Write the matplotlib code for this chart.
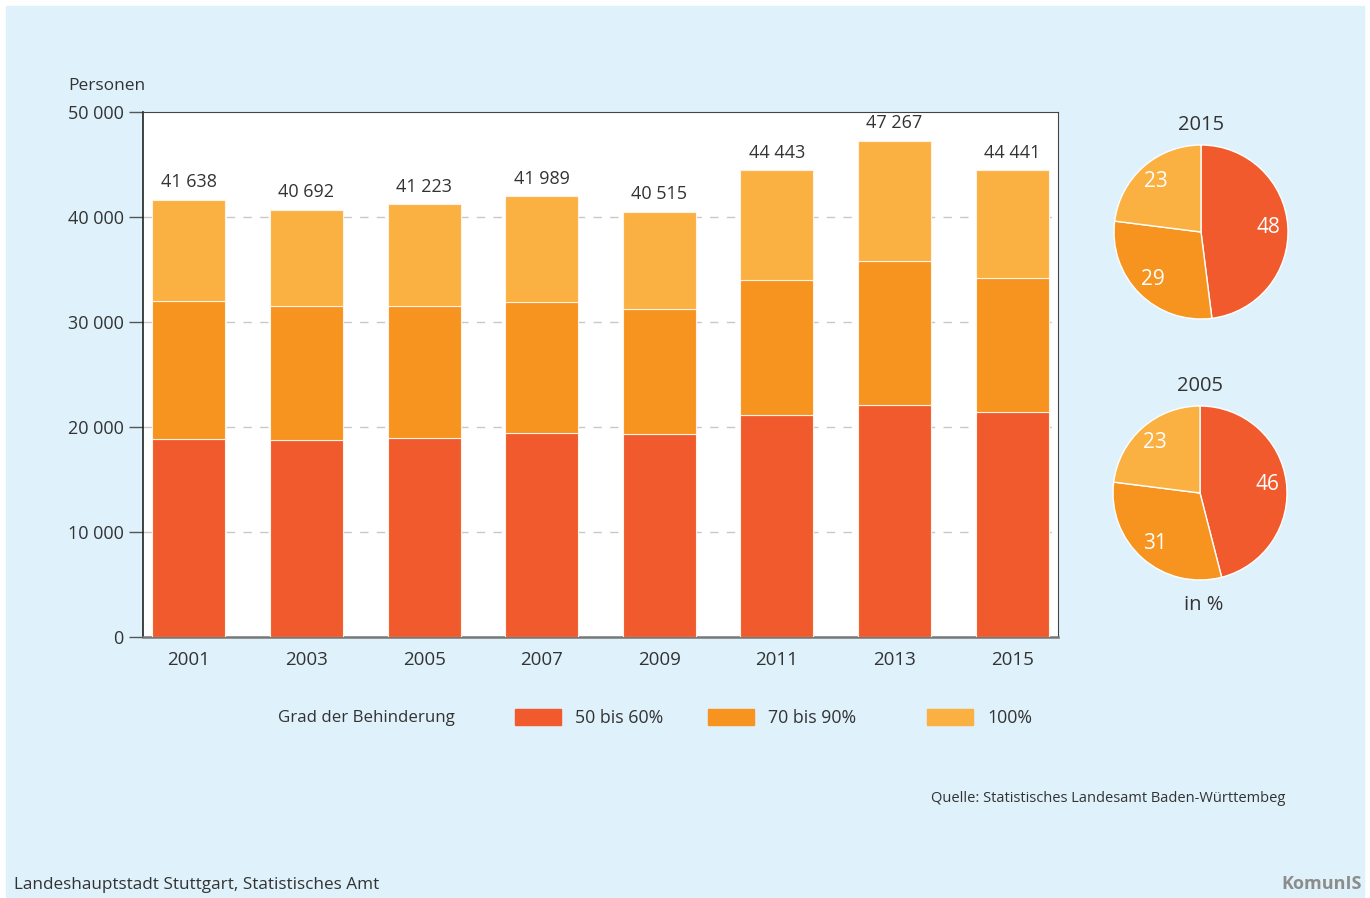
import matplotlib.pyplot as plt
from matplotlib.patches import Rectangle

plt.rcParams["font.family"] = ["Open Sans", "DejaVu Sans"]

# Schwerbehinderte nach Grad der Behinderung
years = ["2001", "2003", "2005", "2007", "2009", "2011", "2013", "2015"]
totals = [41638, 40692, 41223, 41989, 40515, 44443, 47267, 44441]
grad_50_60 = [18820, 18760, 18910, 19390, 19300, 21140, 22120, 21390]
grad_70_90 = [13140, 12790, 12580, 12480, 11900, 12820, 13720, 12760]
grad_100 = [t - a - b for t, a, b in zip(totals, grad_50_60, grad_70_90)]

series_labels = ["50 bis 60%", "70 bis 90%", "100%"]
colors = ["#F05A2D", "#F6941F", "#FBB042"]

# Anteile in %
pie_2015 = [48, 29, 23]
pie_2005 = [46, 31, 23]

yticks = [0, 10000, 20000, 30000, 40000, 50000]

bg = "#DFF1FB"
text_color = "#333333"

W, H = 1370, 898
fig = plt.figure(figsize=(W / 100, H / 100), dpi=100)
fig.patch.set_facecolor("white")
fig.patches.append(Rectangle((6 / W, 0), 1358 / W, 892 / H,
                             transform=fig.transFigure, color=bg, zorder=-10))


def fmt(v):
    return f"{v:,}".replace(",", " ")


# Balkendiagramm
ax = fig.add_axes([143 / W, 1 - 637 / H, 915 / W, 525 / H])
ax.set_facecolor("white")
x = range(len(years))
bottom = [0] * len(years)
for vals, col in zip([grad_50_60, grad_70_90, grad_100], colors):
    ax.bar(x, vals, bottom=bottom, width=0.62, color=col,
           edgecolor="#FFF3E8", linewidth=0.8, zorder=3)
    bottom = [b + v for b, v in zip(bottom, vals)]

for i, t in enumerate(totals):
    ax.annotate(fmt(t), (i, t), xytext=(0, 6), textcoords="offset points",
                ha="center", va="bottom", fontsize=13, color=text_color)

ax.set_xlim(-0.39, 7.39)
ax.set_ylim(0, 50000)
ax.set_yticks(yticks)
ax.set_yticklabels([fmt(v) for v in yticks])
ax.set_xticks(list(x))
ax.set_xticklabels(years)
ax.tick_params(axis="y", length=10, width=1, color="#555555", pad=4,
               labelsize=13, labelcolor=text_color)
ax.tick_params(axis="x", length=0, pad=10, labelsize=13.5, labelcolor=text_color)
for yv in yticks[1:-1]:
    ax.axhline(yv, color="#C8C8C8", linewidth=1, dashes=(6, 6), zorder=1)

ax.spines["left"].set_color("#222222")
ax.spines["left"].set_linewidth(1.2)
ax.spines["bottom"].set_color("#777777")
ax.spines["bottom"].set_linewidth(1.8)
ax.spines["top"].set_color("#444444")
ax.spines["top"].set_linewidth(0.8)
ax.spines["right"].set_color("#444444")
ax.spines["right"].set_linewidth(0.8)

fig.text(68 / W, 1 - 86 / H, "Personen", fontsize=12.5, color=text_color,
         ha="left", va="center")


# Kreisdiagramme
def draw_pie(cx, cy, values, title):
    r = 87
    pax = fig.add_axes([(cx - r) / W, 1 - (cy + r) / H, 2 * r / W, 2 * r / H])
    pax.pie(values, colors=colors, startangle=90, counterclock=False,
            radius=1, autopct=lambda p: f"{p:.0f}", pctdistance=0.78,
            wedgeprops=dict(edgecolor="#FFFFFF", linewidth=1),
            textprops=dict(color="white", fontsize=15))
    pax.set_xlim(-1, 1)
    pax.set_ylim(-1, 1)
    pax.set_aspect("equal")
    pax.axis("off")
    fig.text(cx / W, 1 - (cy - 107) / H, title, fontsize=14.5,
             color=text_color, ha="center", va="center")


draw_pie(1201, 232, pie_2015, "2015")
draw_pie(1200, 493, pie_2005, "2005")
fig.text(1204 / W, 1 - 605 / H, "in %", fontsize=14.5, color=text_color,
         ha="center", va="center")

# Legende
fig.text(278 / W, 1 - 718 / H, "Grad der Behinderung", fontsize=12.2,
         color=text_color, ha="left", va="center")
legend_x = [515, 708, 927]
for lx, col, lab in zip(legend_x, colors, series_labels):
    fig.patches.append(Rectangle((lx / W, 1 - 725 / H), 46 / W, 16 / H,
                                 transform=fig.transFigure, color=col))
    fig.text((lx + 60) / W, 1 - 718 / H, lab, fontsize=12.8,
             color=text_color, ha="left", va="center")

# Quelle und Fußzeile
fig.text(1285 / W, 1 - 798 / H, "Quelle: Statistisches Landesamt Baden-Württembeg",
         fontsize=10.5, color=text_color, ha="right", va="center")
fig.text(14 / W, 1 - 885 / H, "Landeshauptstadt Stuttgart, Statistisches Amt",
         fontsize=12.3, color=text_color, ha="left", va="center")
fig.text(1362 / W, 1 - 884 / H, "KomunIS", fontsize=13, fontweight="bold",
         color="#8C8C8C", ha="right", va="center")

fig.savefig("out.png", dpi=100, facecolor=fig.get_facecolor())
